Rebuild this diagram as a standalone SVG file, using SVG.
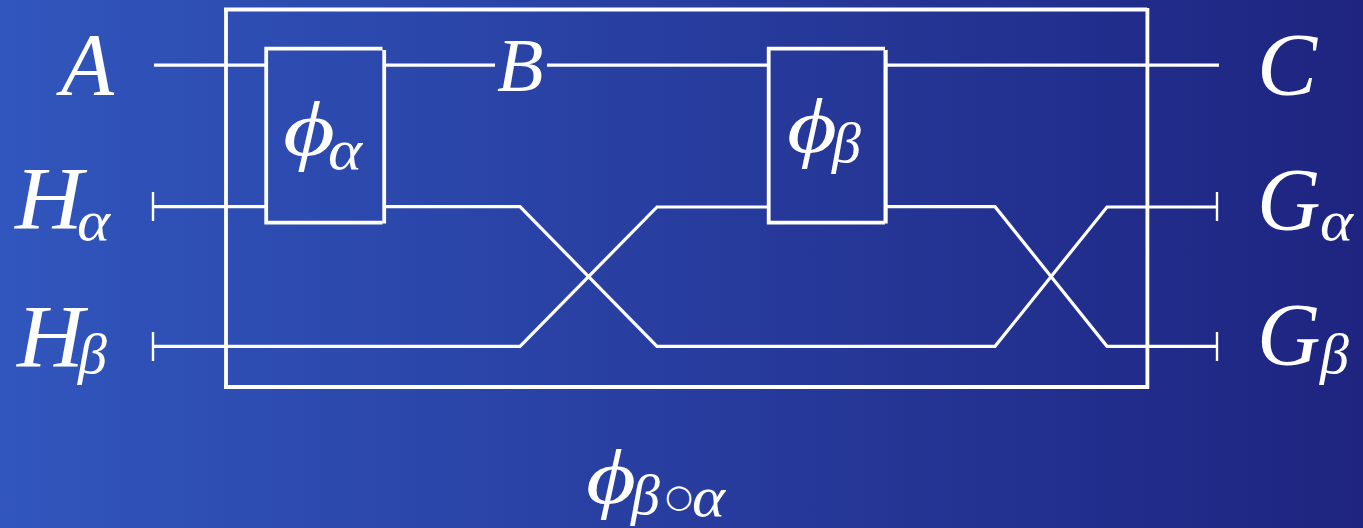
<svg xmlns="http://www.w3.org/2000/svg" width="1363" height="528" viewBox="0 0 1363 528">
<style>
.w{fill:none;stroke:#fff;stroke-width:3.200;stroke-linejoin:miter}
.b{fill:none;stroke:#fff;stroke-width:3.800}
.t{fill:none;stroke:#fff;stroke-width:2.400}
text{font-family:"Liberation Serif","DejaVu Serif",serif;font-style:italic;fill:#fff}
.m{font-size:88px}
.p{font-size:78px}
.s{font-size:58px}
</style>
<defs><linearGradient id="bg" x1="0" y1="0" x2="1" y2="0"><stop offset="0" stop-color="#3156bd"/><stop offset="1" stop-color="#1e2480"/></linearGradient></defs>
<rect width="1363" height="528" fill="url(#bg)"/>
<g id="connectors">
<path class="w" d="M154 65.200H266M385 65.200H495M547 65.200H768M887 65.200H1219"/>
<path class="w" d="M154 206.700H266M154 346.300H520L657 207H768M385 206.700H520L657 346.300H995L1107 207H1217M887 206.700H995L1107 346.300H1217"/>
<path class="t" d="M153 192V221M153 332V361M1217 192V221M1217 332V361"/>
</g>
<g id="outer"><path class="b" d="M226 8V388.500M224 9.500H1147M1147.400 8V388.500M224 387H1149"/></g>
<g id="box-alpha"><path class="b" d="M266.200 47V224.500M264.500 48.700H382.500M264.500 222.700H382.500"/><path class="b" d="M384.200 50V223.500"/><text class="p" x="283" y="155" textLength="52" lengthAdjust="spacingAndGlyphs">ϕ</text><text class="s" x="328" y="169" textLength="34" lengthAdjust="spacingAndGlyphs">α</text></g>
<g id="box-beta"><path class="b" d="M768.700 47V224.500M767 48.700H885M767 222.700H885"/><path class="b" style="stroke-width:4.200" d="M885.600 50V223.500"/><text class="p" x="787" y="152" textLength="50" lengthAdjust="spacingAndGlyphs">ϕ</text><text class="s" x="832" y="162">β</text></g>
<g id="label-a"><text class="m" x="61" y="94" textLength="53" lengthAdjust="spacingAndGlyphs">A</text></g>
<g id="label-b"><text class="m" x="497" y="91" style="font-size:76px">B</text></g>
<g id="label-c"><text class="m" x="1257" y="94" textLength="60" lengthAdjust="spacingAndGlyphs">C</text></g>
<g id="label-h-alpha"><text class="m" x="15" y="228" textLength="68" lengthAdjust="spacingAndGlyphs">H</text><text class="s" x="77" y="240" textLength="33" lengthAdjust="spacingAndGlyphs">α</text></g>
<g id="label-h-beta"><text class="m" x="17" y="366" textLength="67" lengthAdjust="spacingAndGlyphs">H</text><text class="s" x="78" y="373">β</text></g>
<g id="label-g-alpha"><text class="m" x="1257" y="229">G</text><text class="s" x="1320" y="240" textLength="33" lengthAdjust="spacingAndGlyphs">α</text></g>
<g id="label-g-beta"><text class="m" x="1257" y="364">G</text><text class="s" x="1320" y="373">β</text></g>
<g id="label-phi"><text class="p" x="586" y="503" textLength="50" lengthAdjust="spacingAndGlyphs">ϕ</text><text class="s" x="631" y="514">β</text><text x="665" y="507" style="font-family:'DejaVu Sans',sans-serif;font-size:32px;font-style:normal">○</text><text class="s" x="692" y="516" textLength="33" lengthAdjust="spacingAndGlyphs">α</text></g>
</svg>
